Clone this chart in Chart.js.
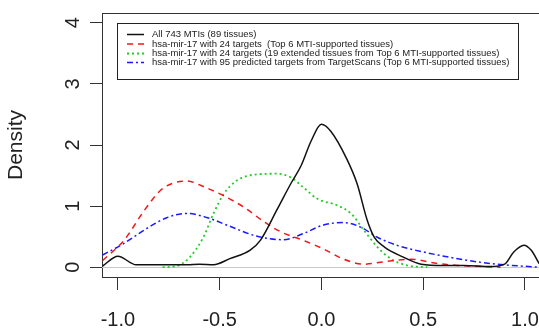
<!DOCTYPE html>
<html>
<head>
<meta charset="utf-8">
<script src="https://cdn.jsdelivr.net/npm/chart.js@4/dist/chart.umd.min.js"></script>
<style>
  html, body { margin: 0; padding: 0; background: #fff; }
  #wrap { width: 539px; height: 329px; }
</style>
</head>
<body>
<div id="wrap"><canvas id="myChart"></canvas></div>
<script>
// density curves
const allX = [-1.075, -1.0, -0.91, -0.8, -0.66, -0.6, -0.53, -0.45, -0.35, -0.3, -0.22, -0.15, -0.1, -0.05, 0.0, 0.045, 0.125, 0.175, 0.225, 0.26, 0.31, 0.4, 0.49, 0.6, 0.7, 0.83, 0.9, 0.945, 0.995, 1.03, 1.07];
const allY = [0.02, 0.18, 0.04, 0.04, 0.04, 0.05, 0.04, 0.14, 0.28, 0.44, 0.93, 1.37, 1.66, 2.07, 2.34, 2.23, 1.77, 1.37, 0.77, 0.49, 0.33, 0.17, 0.05, 0.03, 0.03, 0.01, 0.05, 0.25, 0.36, 0.28, 0.06];

const redX = [-1.075, -0.97, -0.87, -0.79, -0.725, -0.66, -0.58, -0.48, -0.38, -0.28, -0.2, -0.09, 0.01, 0.11, 0.21, 0.31, 0.44, 0.57, 0.67, 0.8, 0.88];
const redY = [0.11, 0.44, 0.93, 1.26, 1.38, 1.41, 1.32, 1.17, 0.98, 0.74, 0.58, 0.44, 0.30, 0.13, 0.05, 0.09, 0.13, 0.06, 0.03, 0.01, 0.0];

const greenX = [-0.78, -0.71, -0.645, -0.58, -0.53, -0.48, -0.415, -0.315, -0.22, -0.15, -0.09, -0.02, 0.08, 0.145, 0.21, 0.275, 0.34, 0.42, 0.52];
const greenY = [0.0, 0.02, 0.17, 0.49, 0.88, 1.2, 1.42, 1.52, 1.53, 1.47, 1.31, 1.12, 1.01, 0.88, 0.60, 0.33, 0.14, 0.03, 0.0];

const blueX = [-1.075, -0.97, -0.86, -0.76, -0.66, -0.56, -0.45, -0.32, -0.185, -0.09, 0.01, 0.11, 0.19, 0.275, 0.37, 0.5, 0.67, 0.83, 1.07];
const blueY = [0.2, 0.39, 0.63, 0.81, 0.88, 0.81, 0.67, 0.51, 0.45, 0.55, 0.69, 0.73, 0.66, 0.49, 0.36, 0.25, 0.14, 0.06, 0.0];

const labels = [
  'All 743 MTIs (89 tissues)',
  'hsa-mir-17 with 24 targets  (Top 6 MTI-supported tissues)',
  'hsa-mir-17 with 24 targets (19 extended tissues from Top 6 MTI-supported tissues)',
  'hsa-mir-17 with 95 predicted targets from TargetScans (Top 6 MTI-supported tissues)'
];
const xTicks = [-1.0, -0.5, 0.0, 0.5, 1.0];
const yTicks = [0, 1, 2, 3, 4];

const FONT = '"Liberation Sans", Arial, sans-serif';

function pts(xs, ys) {
  return xs.map((x, i) => ({x: x, y: ys[i]}));
}

// gray zero line, top frame line, rotated y tick labels (R style) and the boxed legend
const extras = {
  id: 'extras',
  beforeDatasetsDraw(chart) {
    const ctx = chart.ctx, a = chart.chartArea;
    const y0 = chart.scales.y.getPixelForValue(0);
    ctx.save();
    ctx.strokeStyle = '#c8c8c8';
    ctx.lineWidth = 1;
    ctx.beginPath();
    ctx.moveTo(a.left, Math.round(y0) + 0.5);
    ctx.lineTo(a.right, Math.round(y0) + 0.5);
    ctx.stroke();
    ctx.restore();
  },
  afterDraw(chart) {
    const ctx = chart.ctx, a = chart.chartArea;
    const ys = chart.scales.y;
    ctx.save();
    ctx.strokeStyle = '#333';
    ctx.lineWidth = 1;
    ctx.beginPath();
    ctx.moveTo(a.left, a.top + 0.5);
    ctx.lineTo(a.right, a.top + 0.5);
    ctx.stroke();

    // y tick labels read bottom-to-top
    ctx.fillStyle = '#222';
    ctx.font = '20px ' + FONT;
    ctx.textAlign = 'center';
    ctx.textBaseline = 'middle';
    ys.ticks.forEach(t => {
      ctx.save();
      ctx.translate(72, ys.getPixelForValue(t.value));
      ctx.rotate(-Math.PI / 2);
      ctx.fillText(String(t.value), 0, 1);
      ctx.restore();
    });

    // legend box
    const bx = 117.5, by = 23.5, bw = 401, bh = 56;
    ctx.fillStyle = '#fff';
    ctx.fillRect(bx, by, bw, bh);
    ctx.strokeStyle = '#222';
    ctx.strokeRect(bx, by, bw, bh);
    ctx.font = '9.5px ' + FONT;
    ctx.textAlign = 'left';
    ctx.textBaseline = 'middle';
    ctx.fillStyle = '#222';
    const rows = [34.5, 44, 53.5, 62.5];
    chart.data.datasets.forEach((ds, i) => {
      ctx.strokeStyle = ds.borderColor;
      ctx.lineWidth = ds.borderWidth;
      ctx.setLineDash(ds.borderDash || []);
      ctx.beginPath();
      ctx.moveTo(127, rows[i]);
      ctx.lineTo(144, rows[i]);
      ctx.stroke();
      ctx.setLineDash([]);
      ctx.fillText(ds.label, 152, rows[i]);
    });
    ctx.restore();
  }
};

let ctx = document.getElementById('myChart');
let myChart = new Chart(ctx, {
  type: 'line',
  data: {
    datasets: [
      { label: labels[0], data: pts(allX, allY), borderColor: '#111111', borderWidth: 1.5 },
      { label: labels[1], data: pts(redX, redY), borderColor: '#f01818', borderWidth: 1.5, borderDash: [6, 5] },
      { label: labels[2], data: pts(greenX, greenY), borderColor: '#22cc22', borderWidth: 1.8, borderDash: [2, 3] },
      { label: labels[3], data: pts(blueX, blueY), borderColor: '#1a1aff', borderWidth: 1.5, borderDash: [6, 3, 2, 3] }
    ]
  },
  options: {
    responsive: true,
    maintainAspectRatio: false,
    animation: false,
    layout: { padding: { top: 13, right: 0, left: 0, bottom: 0 } },
    elements: {
      point: { radius: 0 },
      line: { cubicInterpolationMode: 'monotone', fill: false }
    },
    plugins: {
      legend: { display: false },
      tooltip: { enabled: false }
    },
    scales: {
      x: {
        type: 'linear',
        min: -1.078,
        max: 1.069,
        afterBuildTicks: s => { s.ticks = xTicks.map(v => ({value: v})); },
        afterFit: s => { s.height = 52; s.paddingLeft = 0; s.paddingRight = 0; },
        grid: { display: true, drawOnChartArea: false, drawTicks: true, tickLength: 13, color: '#333' },
        border: { display: true, color: '#333' },
        ticks: {
          padding: 18,
          maxRotation: 0,
          color: '#222',
          font: { family: FONT, size: 20 },
          callback: v => v.toFixed(1)
        }
      },
      y: {
        type: 'linear',
        min: -0.16,
        max: 4.16,
        afterBuildTicks: s => { s.ticks = yTicks.map(v => ({value: v})); },
        afterFit: s => { s.width = 102; s.paddingTop = 0; s.paddingBottom = 0; },
        grid: { display: true, drawOnChartArea: false, drawTicks: true, tickLength: 12, color: '#333' },
        border: { display: true, color: '#333' },
        title: {
          display: true,
          text: 'Density',
          color: '#222',
          padding: { top: 4, bottom: 0 },
          font: { family: FONT, size: 21 }
        },
        ticks: {
          color: 'rgba(0,0,0,0)',
          font: { family: FONT, size: 20 }
        }
      }
    }
  },
  plugins: [extras]
});
</script>
</body>
</html>
